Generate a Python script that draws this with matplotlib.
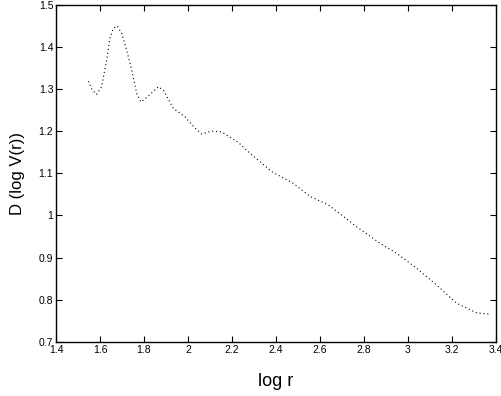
import matplotlib
matplotlib.use("Agg")
import matplotlib.pyplot as plt

# values
log_r = [1.547, 1.565, 1.585, 1.607, 1.630, 1.645, 1.660, 1.679, 1.699, 1.721,
         1.744, 1.767, 1.786, 1.820, 1.865, 1.888, 1.933, 1.986, 2.030, 2.062,
         2.107, 2.153, 2.229, 2.274, 2.312, 2.380, 2.479, 2.555, 2.638, 2.700,
         2.767, 2.873, 2.949, 3.039, 3.130, 3.221, 3.312, 3.373]
d_logv = [1.318, 1.297, 1.287, 1.305, 1.368, 1.420, 1.443, 1.449, 1.431, 1.392,
          1.345, 1.289, 1.269, 1.283, 1.305, 1.297, 1.254, 1.234, 1.208, 1.193,
          1.200, 1.198, 1.173, 1.151, 1.134, 1.104, 1.076, 1.045, 1.025, 1.000,
          0.973, 0.934, 0.910, 0.875, 0.835, 0.792, 0.769, 0.766]

x_ticks = [1.4, 1.6, 1.8, 2, 2.2, 2.4, 2.6, 2.8, 3, 3.2, 3.4]
y_ticks = [0.7, 0.8, 0.9, 1, 1.1, 1.2, 1.3, 1.4, 1.5]

plt.rcParams["font.family"] = ["Liberation Sans", "DejaVu Sans"]

fig = plt.figure(figsize=(5.02, 3.96), dpi=100)
ax = fig.add_axes([0.1116, 0.1364, 0.8764, 0.8522])

ax.plot(log_r, d_logv, color="black", linestyle=(0, (1, 2.5)), linewidth=0.8)

ax.set_xlim(1.4, 3.4)
ax.set_ylim(0.7, 1.5)
ax.set_xticks(x_ticks)
ax.set_xticklabels([f"{v:g}" for v in x_ticks])
ax.set_yticks(y_ticks)
ax.set_yticklabels([f"{v:g}" for v in y_ticks])
ax.tick_params(direction="in", top=True, right=True, labelsize=7.5,
               length=4, width=0.8, pad=2)
for s in ax.spines.values():
    s.set_linewidth(1.0)

ax.set_xlabel("log r", fontsize=13, labelpad=13)
ax.set_ylabel("D (log V(r))", fontsize=12, labelpad=10)

fig.savefig("out.png", dpi=100)
